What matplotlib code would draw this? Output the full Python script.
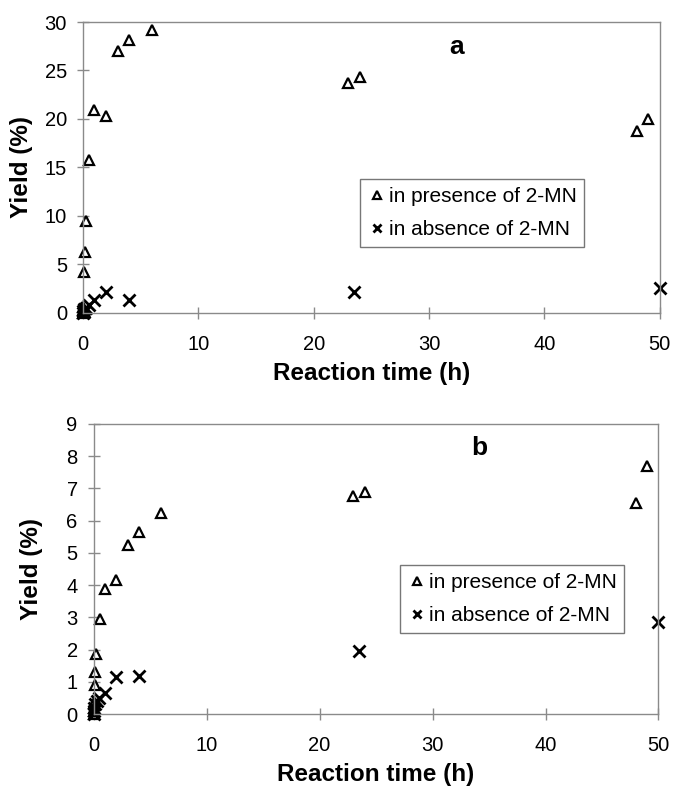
import numpy as np
import matplotlib
matplotlib.use("Agg")
import matplotlib.pyplot as plt

plt.rcParams['font.family'] = ['Liberation Sans', 'DejaVu Sans']

# panel a: yield vs reaction time
a_with_t = [0, 0.02, 0.04, 0.06, 0.08, 0.17, 0.25, 0.5, 1, 2, 3, 4, 6, 23, 24, 48, 49]
a_with_y = [0, 0.3, 0.6, 0.2, 4.2, 6.3, 9.5, 15.8, 20.9, 20.3, 27.0, 28.1, 29.2, 23.7, 24.3, 18.8, 20.0]
a_without_t = [0, 0.03, 0.06, 0.1, 0.25, 0.5, 1, 2, 4, 23.5, 50]
a_without_y = [0, 0.2, 0.4, 0.1, 0.5, 0.8, 1.3, 2.1, 1.3, 2.2, 2.6]

# panel b
b_with_t = [0, 0.02, 0.04, 0.06, 0.08, 0.1, 0.17, 0.6, 1, 2, 3, 4, 6, 23, 24, 48, 49]
b_with_y = [0, 0.1, 0.2, 0.35, 0.9, 1.3, 1.85, 2.95, 3.87, 4.16, 5.25, 5.66, 6.23, 6.77, 6.9, 6.56, 7.7]
b_without_t = [0, 0.03, 0.06, 0.1, 0.25, 0.5, 1, 2, 4, 23.5, 50]
b_without_y = [0, 0.1, 0.2, 0.3, 0.4, 0.5, 0.64, 1.14, 1.18, 1.97, 2.87]

gray = '#8a8a8a'

fig = plt.figure(figsize=(6.74, 7.86), dpi=100)
ax1 = fig.add_axes([0.123, 0.602, 0.856, 0.370])
ax2 = fig.add_axes([0.139, 0.0916, 0.838, 0.369])


def style(ax, panel, ymax, ystep, label, lx, ly, legpos, ylx):
    ax.plot(panel[0], panel[1], ls='none', marker='^', ms=7.5, mfc='none',
            mec='black', mew=1.6, clip_on=False, label='in presence of 2-MN')
    ax.plot(panel[2], panel[3], ls='none', marker='x', ms=8, mec='black',
            mew=2.0, clip_on=False, label='in absence of 2-MN')
    ax.set_xlim(0, 50)
    ax.set_ylim(0, ymax)
    ax.set_xticks(range(0, 51, 10))
    ax.set_yticks(np.arange(0, ymax + 0.1, ystep))
    for s in ax.spines.values():
        s.set_color(gray)
        s.set_linewidth(1.0)
    ax.tick_params(direction='inout', length=8, width=1.0, color=gray,
                   labelsize=14.5)
    ax.tick_params(axis='x', pad=12)
    ax.tick_params(axis='y', pad=7.5)
    ax.set_xlabel('Reaction time (h)', fontsize=17.5, fontweight='bold')
    ax.set_ylabel('Yield (%)', fontsize=17.5, fontweight='bold')
    ax.xaxis.set_label_coords(0.5, -0.168)
    ax.yaxis.set_label_coords(ylx, 0.5)
    ax.text(lx, ly, label, transform=ax.transAxes, fontsize=19,
            fontweight='bold', ha='center', va='center')
    leg = ax.legend(loc='lower left', bbox_to_anchor=legpos, fontsize=15,
                    frameon=True, fancybox=False, handletextpad=0.1,
                    handlelength=0.9, markerscale=0.75, borderpad=0.38,
                    labelspacing=0.67, borderaxespad=0)
    leg.get_frame().set_edgecolor('#555555')
    leg.get_frame().set_linewidth(1.0)


style(ax1, (a_with_t, a_with_y, a_without_t, a_without_y),
      30, 5, 'a', 0.648, 0.914, (0.48, 0.227), -0.087)
style(ax2, (b_with_t, b_with_y, b_without_t, b_without_y),
      9, 1, 'b', 0.683, 0.917, (0.542, 0.279), -0.090)

fig.savefig('out.png', dpi=100)
